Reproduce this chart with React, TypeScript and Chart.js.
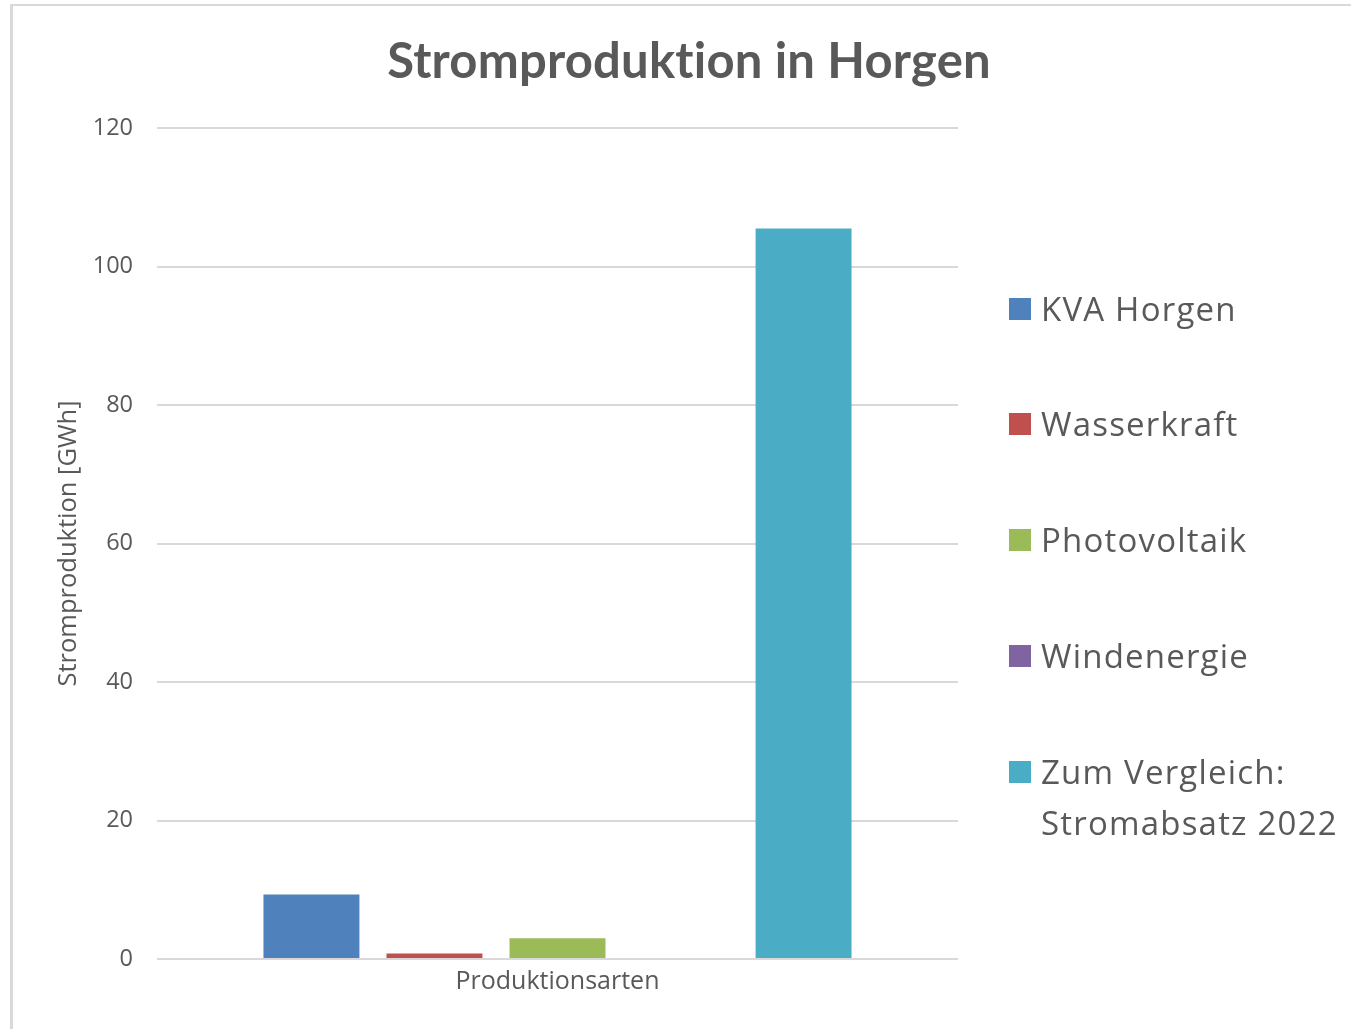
import React, { useEffect, useRef } from "react";
import { Chart, registerables } from "chart.js";

Chart.register(...registerables);

const categories = ["Produktionsarten"];
const seriesNames = ["KVA Horgen", "Wasserkraft", "Photovoltaik", "Windenergie", "Zum Vergleich: Stromabsatz 2022"];
const legendLines = [["KVA Horgen"], ["Wasserkraft"], ["Photovoltaik"], ["Windenergie"], ["Zum Vergleich:", "Stromabsatz 2022"]];
const seriesValues = [9.3, 0.8, 3.0, 0, 105.5];
const seriesColors = ["#4f81bd", "#c0504d", "#9bbb59", "#8064a2", "#4bacc6"];
const yTicks = [0, 20, 40, 60, 80, 100, 120];
const titleText = "Stromproduktion in Horgen";
const yTitle = "Stromproduktion [GWh]";

const W = 1351;
const H = 1029;
const TEXT = "#595959";
const GRID = "#d9d9d9";
const legendCenters = [308, 423, 539, 655, 771];

const titlePlugin = {
  id: "centeredTitle",
  afterDraw(chart: any) {
    const ctx = chart.ctx;
    ctx.save();
    ctx.fillStyle = TEXT;
    ctx.font = "bold 49px Lato";
    ctx.textAlign = "center";
    ctx.textBaseline = "middle";
    try {
      (ctx as any).textRendering = "optimizeSpeed";
      (ctx as any).letterSpacing = "0.2px";
    } catch (e) {}
    ctx.fillText(titleText, 689, 62);
    ctx.restore();
  },
};

export default function App() {
  const ref = useRef<HTMLCanvasElement | null>(null);

  useEffect(() => {
    if (!ref.current) return;
    const chart = new Chart(ref.current, {
      type: "bar",
      data: {
        labels: categories,
        datasets: seriesNames.map((name, i) => ({
          label: name,
          data: [seriesValues[i]],
          backgroundColor: seriesColors[i],
          borderWidth: 0,
          categoryPercentage: 0.768,
          barPercentage: 0.78,
        })),
      },
      plugins: [titlePlugin],
      options: {
        responsive: false,
        animation: false,
        devicePixelRatio: 1,
        layout: { padding: { left: 0, right: W - 958, top: 128, bottom: 0 } },
        plugins: {
          legend: { display: false },
          tooltip: { enabled: false },
          title: { display: false },
        },
        scales: {
          x: {
            grid: { display: false, drawTicks: false },
            border: { display: false },
            ticks: {
              color: TEXT,
              font: { family: "Open Sans", size: 25 },
              padding: 8,
            },
            afterFit: (s: any) => {
              s.height = H - 959;
            },
          },
          y: {
            min: 0,
            max: 120,
            afterBuildTicks: (s: any) => {
              s.ticks = yTicks.map((v) => ({ value: v }));
            },
            grid: { color: GRID, lineWidth: 2, drawTicks: false },
            border: { display: false },
            ticks: {
              color: TEXT,
              font: { family: "Open Sans", size: 23.5 },
              padding: 24,
            },
            title: {
              display: true,
              text: yTitle,
              color: TEXT,
              font: { family: "Open Sans", size: 25.5, lineHeight: 1.2 },
              padding: { top: 53, bottom: 0 },
            },
            afterFit: (s: any) => {
              s.width = 157;
            },
          },
        },
      },
    });
    return () => chart.destroy();
  }, []);

  return (
    <div style={{ position: "absolute", left: 0, top: 0, width: W, height: H, overflow: "hidden", background: "#fff" }}>
      <div
        style={{
          position: "absolute",
          left: 10,
          top: 4,
          width: W,
          height: H,
          borderTop: "2px solid #d9d9d9",
          borderLeft: "3px solid #d9d9d9",
        }}
      />
      <canvas ref={ref} width={W} height={H} style={{ position: "absolute", left: 0, top: 0, width: W, height: H }} />
      {seriesNames.map((name, i) => (
        <div key={name}>
          <div
            style={{
              position: "absolute",
              left: 1009,
              top: legendCenters[i] - 10,
              width: 22,
              height: 22,
              background: seriesColors[i],
            }}
          />
          <div
            style={{
              position: "absolute",
              left: 1041,
              top: legendCenters[i] - 25,
              fontFamily: "'Open Sans', sans-serif",
              fontSize: 33,
              lineHeight: "51px",
              letterSpacing: "1.2px",
              color: TEXT,
              whiteSpace: "nowrap",
            }}
          >
            {legendLines[i].map((l, j) => (
              <div key={j}>{l}</div>
            ))}
          </div>
        </div>
      ))}
    </div>
  );
}
